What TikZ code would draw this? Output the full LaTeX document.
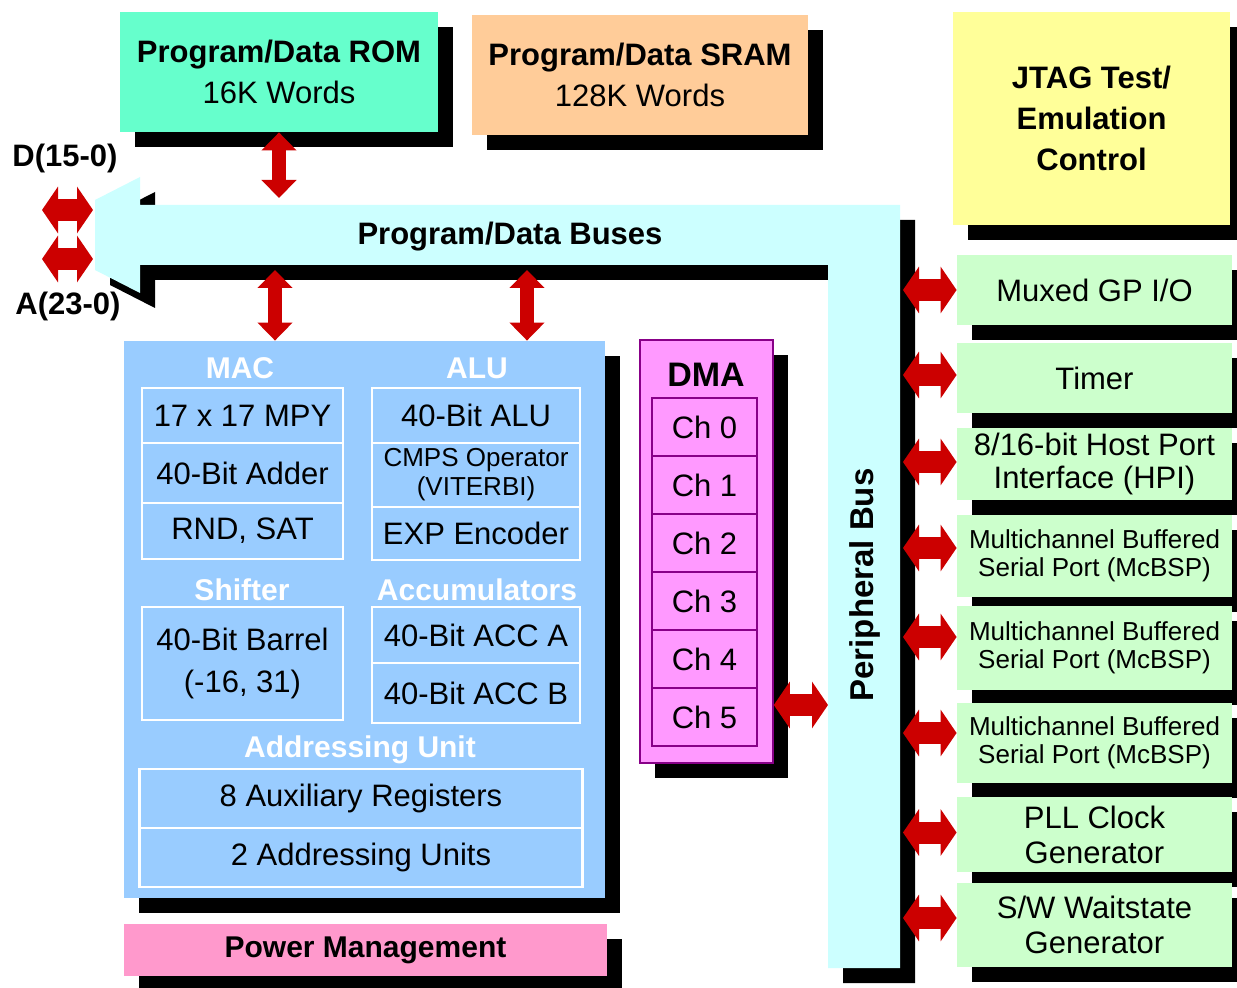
\documentclass[tikz,border=0pt]{standalone}
\usepackage{fontspec}
\setmainfont{Liberation Sans}
\usetikzlibrary{arrows.meta}
\usetikzlibrary{shadows}
\definecolor{romgreen}{RGB}{102,255,204}
\definecolor{sramorange}{RGB}{255,204,153}
\definecolor{jtagyellow}{RGB}{255,255,153}
\definecolor{buscyan}{RGB}{204,255,255}
\definecolor{pergreen}{RGB}{204,255,204}
\definecolor{cpublue}{RGB}{153,204,255}
\definecolor{dmapink}{RGB}{255,153,255}
\definecolor{dmaline}{RGB}{136,0,136}
\definecolor{powerpink}{RGB}{255,153,204}
\definecolor{arrowred}{RGB}{204,0,0}

\begin{document}
\begin{tikzpicture}[x=0.5pt,y=-0.5pt]
  \tikzset{blk/.style={drop shadow={shadow xshift=7.5pt,shadow yshift=-7.5pt,opacity=1,fill=black}}}
  \tikzset{box/.style={blk, inner sep=0pt, align=center, font=\fontsize{15.5}{20.5}\selectfont}}
  \tikzset{per/.style={box, fill=pergreen, minimum width=137.5pt, font=\fontsize{15.5}{16.5}\selectfont}}
  \tikzset{mcb/.style={per, font=\fontsize{13}{14}\selectfont}}
  \tikzset{unit/.style={draw=white, line width=1.2pt, inner sep=0pt, align=center, font=\fontsize{15.5}{21}\selectfont}}
  \tikzset{grp/.style={text=white, inner sep=0pt, font=\bfseries\fontsize{15}{17}\selectfont}}
  \tikzset{chan/.style={draw=dmaline, line width=1.2pt, inner sep=0pt, minimum width=52.5pt, minimum height=29pt, font=\fontsize{15.5}{17}\selectfont}}
  \tikzset{fat/.style={draw=arrowred, line width=11pt, {Triangle[width=23pt,length=8pt]}-{Triangle[width=23pt,length=8pt]}}}
  \tikzset{slim/.style={draw=arrowred, line width=7pt, {Triangle[width=17pt,length=9pt]}-{Triangle[width=17pt,length=9pt]}}}
  \tikzset{pinlbl/.style={inner sep=0pt, font=\bfseries\fontsize{15.5}{17}\selectfont}}

  \fill[white] (0,0) rectangle (1237,988);
  \useasboundingbox (0,0) rectangle (1237,988);

  \node[box, fill=romgreen, minimum width=159pt, minimum height=60pt] (rom) at (279,72)
    {\textbf{Program/Data ROM}\\16K Words};
  \node[box, fill=sramorange, minimum width=168pt, minimum height=60pt] (sram) at (640,75)
    {\textbf{Program/Data SRAM}\\128K Words};
  \node[box, fill=jtagyellow, minimum width=138.5pt, minimum height=106.5pt, font=\bfseries\fontsize{15.5}{20.5}\selectfont] (jtag) at (1091.5,118.5)
    {JTAG Test/\\Emulation\\Control};

  \fill[buscyan, blk] (95,200) -- (140,177) -- (140,205) -- (900,205) -- (900,968) -- (828,968)
    -- (828,265) -- (140,265) -- (140,293) -- (95,270) -- cycle;
  \node[inner sep=0pt, font=\bfseries\fontsize{15.5}{17}\selectfont] (busname) at (510,237) {Program/Data Buses};
  \node[rotate=90, inner sep=0pt, font=\bfseries\fontsize{16.5}{18}\selectfont] (pbusname) at (865,585) {Peripheral Bus};

  \node[pinlbl] (dlbl) at (65,158) {D(15-0)};
  \node[pinlbl] (albl) at (68,306) {A(23-0)};

  \node[per, minimum height=35pt] (gpio) at (1094.5,290) {Muxed GP I/O};
  \node[per, minimum height=35pt] (timer) at (1094.5,378) {Timer};
  \node[per, minimum height=36pt] (hpi) at (1094.5,464) {8/16-bit Host Port\\Interface (HPI)};
  \node[mcb, minimum height=41pt] (mcbspa) at (1094.5,556) {Multichannel Buffered\\Serial Port (McBSP)};
  \node[mcb, minimum height=41.5pt] (mcbspb) at (1094.5,648) {Multichannel Buffered\\Serial Port (McBSP)};
  \node[mcb, minimum height=40pt] (mcbspc) at (1094.5,743) {Multichannel Buffered\\Serial Port (McBSP)};
  \node[per, minimum height=37.5pt, font=\fontsize{15.5}{17.5}\selectfont] (pll) at (1094.5,834.5) {PLL Clock\\Generator};
  \node[per, minimum height=42pt, font=\fontsize{15.5}{17.5}\selectfont] (wait) at (1094.5,925) {S/W Waitstate\\Generator};

  \node[box, fill=cpublue, minimum width=240.5pt, minimum height=278.5pt] (cpu) at (364.5,619.5) {};
  \node[grp] (maclbl) at (240,368) {MAC};
  \node[grp] (alulbl) at (477,368) {ALU};
  \node[grp] (shiftlbl) at (242,590) {Shifter};
  \node[grp] (acclbl) at (477,590) {Accumulators};
  \node[grp] (addrlbl) at (360,750) {Addressing Unit};
  \node[unit, minimum width=100.5pt, minimum height=27.5pt] (mpy) at (242.5,415.5) {17 x 17 MPY};
  \node[unit, minimum width=100.5pt, minimum height=30pt] (adder) at (242.5,473) {40-Bit Adder};
  \node[unit, minimum width=100.5pt, minimum height=28pt] (rnd) at (242.5,531) {RND, SAT};
  \node[unit, minimum width=104pt, minimum height=27.5pt] (alu) at (476,415.5) {40-Bit ALU};
  \node[unit, minimum width=104pt, minimum height=32pt, font=\fontsize{13}{14.5}\selectfont] (cmps) at (476,475) {CMPS Operator\\(VITERBI)};
  \node[unit, minimum width=104pt, minimum height=26.5pt] (expenc) at (476,533.5) {EXP Encoder};
  \node[unit, minimum width=100.5pt, minimum height=56.5pt] (barrel) at (242.5,663.5) {40-Bit Barrel\\(-16, 31)};
  \node[unit, minimum width=104pt, minimum height=28pt] (acca) at (476,635) {40-Bit ACC A};
  \node[unit, minimum width=104pt, minimum height=30pt] (accb) at (476,693) {40-Bit ACC B};
  \node[unit, minimum width=221.5pt, minimum height=29.5pt] (aux) at (361,798.5) {8 Auxiliary Registers};
  \node[unit, minimum width=221.5pt, minimum height=29.5pt] (addr) at (361,857.5) {2 Addressing Units};

  \node[box, fill=dmapink, draw=dmaline, line width=0.8pt, minimum width=66.5pt, minimum height=211.5pt] (dma) at (706.5,551.5) {};
  \node[inner sep=0pt, font=\bfseries\fontsize{17}{19}\selectfont] (dmalbl) at (706,375) {DMA};
  \foreach \i in {0,...,5}
    \node[chan] (ch\i) at (704.5,{427+58*\i}) {Ch \i};

  \node[box, fill=powerpink, minimum width=241.5pt, minimum height=26pt, font=\bfseries\fontsize{15}{17}\selectfont] (pwr) at (365.5,950) {Power Management};

  \coordinate (bustop) at (0,198);
  \coordinate (macpin) at (275,270);
  \coordinate (alupin) at (527,270);
  \coordinate (pbus) at (903,0);
  \coordinate (dmapin) at (828,705);
  \coordinate (dl) at (42,210);
  \coordinate (dr) at (93,210);
  \coordinate (al) at (42,259);
  \coordinate (ar) at (93,259);

  \draw[slim] (rom.south) -- (rom.south |- bustop);
  \draw[slim] (macpin) -- (macpin |- cpu.north);
  \draw[slim] (alupin) -- (alupin |- cpu.north);
  \draw[fat] (dl) -- (dr);
  \draw[fat] (al) -- (ar);
  \draw[fat] (dma.east |- dmapin) -- (dmapin);
  \foreach \n/\d in {gpio/0pt,timer/1.5pt,hpi/1pt,mcbspa/4pt,mcbspb/5.5pt,mcbspc/5pt,pll/1pt,wait/3.5pt}
    \draw[fat] ([yshift=\d]pbus |- \n.west) -- ([yshift=\d]\n.west);
\end{tikzpicture}
\end{document}
